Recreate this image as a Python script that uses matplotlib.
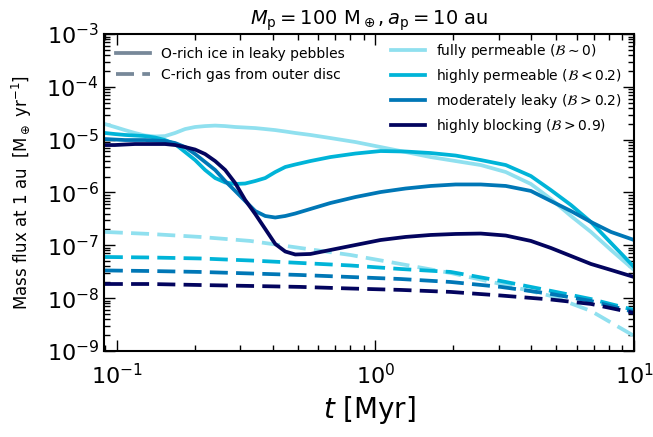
import matplotlib
matplotlib.use("Agg")
import matplotlib.pyplot as plt
from matplotlib.lines import Line2D

# time grid for the solid (O-rich ice) curves [Myr]
t_solid = [0.0898, 0.0982, 0.1074, 0.1174, 0.1284, 0.1404, 0.1535, 0.1678, 0.1835, 0.2006,
           0.2193, 0.2398, 0.2622, 0.2867, 0.3134, 0.3426, 0.3746, 0.4096, 0.4478, 0.4896,
           0.5598, 0.6692, 0.8367, 1.046, 1.307, 1.634, 2.042, 2.553, 3.191, 3.989,
           4.768, 5.700, 6.813, 8.144, 10.0]

ice_fully = [1.98e-5, 1.74e-5, 1.52e-5, 1.34e-5, 1.20e-5, 1.15e-5, 1.17e-5, 1.34e-5, 1.59e-5, 1.74e-5,
             1.81e-5, 1.85e-5, 1.81e-5, 1.74e-5, 1.70e-5, 1.66e-5, 1.59e-5, 1.52e-5, 1.43e-5, 1.34e-5,
             1.23e-5, 1.075e-5, 9.03e-6, 7.26e-6, 5.84e-6, 4.69e-6, 3.94e-6, 3.31e-6, 2.44e-6, 1.45e-6,
             7.53e-7, 3.59e-7, 1.79e-7, 8.15e-8, 3.41e-8]
ice_highly = [1.34e-5, 1.28e-5, 1.23e-5, 1.20e-5, 1.17e-5, 1.10e-5, 9.85e-6, 8.28e-6, 5.84e-6, 4.12e-6,
              2.67e-6, 1.88e-6, 1.55e-6, 1.45e-6, 1.48e-6, 1.65e-6, 1.88e-6, 2.44e-6, 3.04e-6, 3.39e-6,
              3.94e-6, 4.69e-6, 5.47e-6, 6.10e-6, 5.97e-6, 5.59e-6, 5.01e-6, 4.12e-6, 3.31e-6, 2.05e-6,
              1.11e-6, 5.80e-7, 2.76e-7, 1.106e-7, 3.89e-8]
ice_moder = [1.03e-5, 1.007e-5, 9.85e-6, 9.85e-6, 9.85e-6, 9.64e-6, 9.43e-6, 8.65e-6, 7.26e-6, 5.35e-6,
             3.78e-6, 2.67e-6, 1.65e-6, 1.07e-6, 6.90e-7, 4.46e-7, 3.59e-7, 3.36e-7, 3.59e-7, 4.00e-7,
             4.87e-7, 6.32e-7, 8.21e-7, 1.02e-6, 1.19e-6, 1.33e-6, 1.42e-6, 1.42e-6, 1.33e-6, 1.07e-6,
             6.90e-7, 4.46e-7, 2.76e-7, 1.79e-7, 1.26e-7]
ice_block = [7.92e-6, 7.92e-6, 8.10e-6, 8.28e-6, 8.28e-6, 8.28e-6, 8.28e-6, 7.92e-6, 7.26e-6, 6.51e-6,
             5.35e-6, 3.94e-6, 2.67e-6, 1.51e-6, 7.21e-7, 3.92e-7, 2.04e-7, 1.06e-7, 7.63e-8, 6.70e-8,
             6.85e-8, 8.15e-8, 1.014e-7, 1.26e-7, 1.44e-7, 1.57e-7, 1.64e-7, 1.67e-7, 1.53e-7, 1.21e-7,
             8.9e-8, 6.28e-8, 4.43e-8, 3.41e-8, 2.51e-8]

# time grid for the dashed (C-rich gas) curves [Myr]
t_gas = [0.0898, 0.1343, 0.2098, 0.3277, 0.5121, 0.800, 1.250, 1.953, 3.052, 4.768, 6.813, 10.0]
gas_fully = [1.79e-7, 1.64e-7, 1.44e-7, 1.21e-7, 8.9e-8, 6.56e-8, 4.43e-8, 2.99e-8, 1.85e-8, 1.10e-8, 5.71e-9, 1.92e-9]
gas_highly = [6.01e-8, 5.88e-8, 5.63e-8, 5.16e-8, 4.63e-8, 4.15e-8, 3.56e-8, 3.13e-8, 2.11e-8, 1.37e-8, 9.6e-9, 5.97e-9]
gas_moder = [3.34e-8, 3.26e-8, 3.13e-8, 2.93e-8, 2.74e-8, 2.51e-8, 2.30e-8, 2.02e-8, 1.63e-8, 1.20e-8, 8.83e-9, 5.47e-9]
gas_block = [1.85e-8, 1.85e-8, 1.77e-8, 1.70e-8, 1.63e-8, 1.52e-8, 1.43e-8, 1.31e-8, 1.12e-8, 9.4e-9, 7.75e-9, 5.23e-9]

labels = [r"fully permeable ($\mathcal{B}\sim 0$)", r"highly permeable ($\mathcal{B}<0.2$)",
          r"moderately leaky ($\mathcal{B}>0.2$)", r"highly blocking ($\mathcal{B}>0.9$)"]
colors = ["#90e0ef", "#00b4d8", "#0077b6", "#03045e"]
ice = [ice_fully, ice_highly, ice_moder, ice_block]
gas = [gas_fully, gas_highly, gas_moder, gas_block]

fig = plt.figure(figsize=(6.53, 4.37), dpi=100)
ax = fig.add_axes([0.159, 0.197, 0.812, 0.725])

lw = 2.7
dash = (0, (4.8, 2.2))
for c, lab, yi, yg in zip(colors, labels, ice, gas):
    ax.plot(t_solid, yi, color=c, lw=lw, label=lab)
    ax.plot(t_gas, yg, color=c, lw=lw, ls=dash)

ax.set_xscale("log"); ax.set_yscale("log")
ax.set_xlim(0.089, 10); ax.set_ylim(1e-9, 1e-3)
ax.tick_params(which="both", direction="in", top=True, right=True, labelsize=16, width=1)
ax.tick_params(which="major", length=8)
ax.tick_params(which="minor", length=4)
ax.tick_params(axis="x", which="major", pad=9)
for s in ax.spines.values():
    s.set_linewidth(1.5)

ax.set_xlabel(r"$t$ [Myr]", fontsize=20, labelpad=4)
ax.set_ylabel(r"Mass flux at 1 au  [M$_\oplus$ yr$^{-1}$]", fontsize=12, labelpad=9)
ax.set_title(r"$M_\mathrm{p} = 100\ \mathrm{M}_\oplus, a_\mathrm{p} = 10$ au", fontsize=14, pad=7)

gray = "#778899"
h1 = [Line2D([], [], color=gray, lw=lw), Line2D([], [], color=gray, lw=lw, ls=dash)]
leg1 = ax.legend(h1, ["O-rich ice in leaky pebbles", "C-rich gas from outer disc"],
                 loc="upper left", frameon=False, fontsize=10, handlelength=2.4)
ax.add_artist(leg1)
ax.legend(loc="upper right", frameon=False, fontsize=10, handlelength=2.4,
          bbox_to_anchor=(1.0, 1.015))

fig.savefig("out.png", dpi=100)
